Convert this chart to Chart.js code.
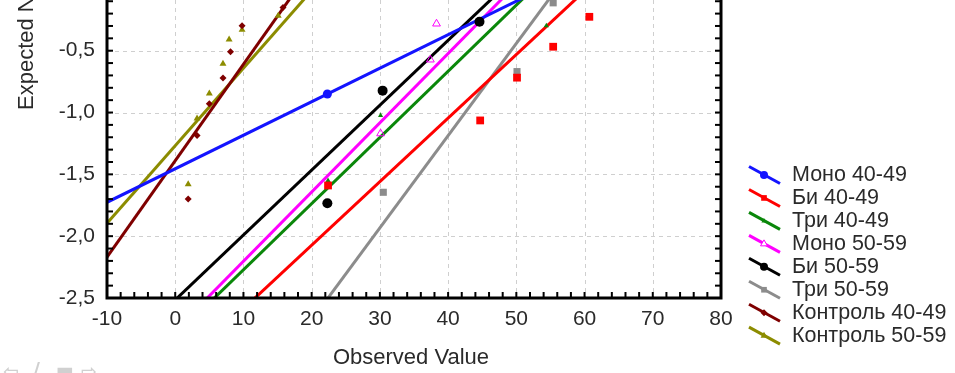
<!DOCTYPE html>
<html><head><meta charset="utf-8">
<script src="https://cdn.jsdelivr.net/npm/chart.js@4/dist/chart.umd.min.js"></script>
<style>html,body{margin:0;padding:0;background:#fff;overflow:hidden}#wrap{width:955px;height:373px;position:relative}</style>
</head><body><div id="wrap"><canvas id="c" width="955" height="373"></canvas></div>
<script>
// ---- data ----
const seriesNames = ['Моно 40-49','Би 40-49','Три 40-49','Моно 50-59','Би 50-59','Три 50-59','Контроль 40-49','Контроль 50-59'];
const xTickValues = [-10,0,10,20,30,40,50,60,70,80];
const yTickValues = [-2.5,-2.0,-1.5,-1.0,-0.5];
const xTitle = 'Observed Value';
const yTitle = 'Expected Normal Value';

// observed points
const mono40X = [22.3];                 const mono40Y = [-0.85];
const bi40X   = [22.4,44.7,50.1,55.4,60.7]; const bi40Y = [-1.59,-1.064,-0.718,-0.468,-0.226];
const tri40X  = [22.4,30.1,54.4];       const tri40Y  = [-1.55,-1.024,-0.298];
const mono50X = [30.1,37.4,38.3];       const mono50Y = [-1.17,-0.573,-0.282];
const bi50X   = [22.3,30.4,44.6];       const bi50Y   = [-1.734,-0.823,-0.266];
const tri50X  = [30.5,50.1,55.4];       const tri50Y  = [-1.645,-0.669,-0.113];
const k40X    = [1.9,3.2,5.0,7.0,8.1,9.8,15.8]; const k40Y = [-1.70,-1.185,-0.93,-0.72,-0.508,-0.298,-0.15];
const k50X    = [1.9,3.2,5.0,7.0,7.9,9.8,15.1]; const k50Y = [-1.58,-1.048,-0.847,-0.605,-0.41,-0.33,-0.218];

// fitted normal lines (two end points each)
const mono40FitX = [-10,55];  const mono40FitY = [-1.726,0.036];
const bi40FitX   = [10,60];   const bi40FitY   = [-2.587,-0.017];
const tri40FitX  = [4,52];    const tri40FitY  = [-2.593,-0.024];
const mono50FitX = [3,50];    const mono50FitY = [-2.595,0.037];
const bi50FitX   = [-1,48];   const bi50FitY   = [-2.568,0.004];
const tri50FitX  = [21,57];   const tri50FitY  = [-2.604,0.081];
const k40FitX    = [-10,18];  const k40FitY    = [-2.17,0.014];
const k50FitX    = [-10,20];  const k50FitY    = [-1.895,-0.014];

// ---- styles ----
const FONT = "'Liberation Sans', Arial, sans-serif";
const styles = [
  {color:'#1414ff', point:'circle',   r:4.5, fill:true},
  {color:'#ff0000', point:'rect',     r:5.5, fill:true},
  {color:'#0a870a', point:'triangle', r:3,   fill:true},
  {color:'#ff00ff', point:'triangle', r:4.5, fill:false},
  {color:'#000000', point:'circle',   r:5,   fill:true},
  {color:'#8c8c8c', point:'rect',     r:5,   fill:true},
  {color:'#7f0000', point:'rectRot',  r:3.5, fill:true},
  {color:'#8c8c00', point:'triangle', r:4,   fill:true}
];
const pts = [[mono40X,mono40Y],[bi40X,bi40Y],[tri40X,tri40Y],[mono50X,mono50Y],[bi50X,bi50Y],[tri50X,tri50Y],[k40X,k40Y],[k50X,k50Y]];
const fits = [[mono40FitX,mono40FitY],[bi40FitX,bi40FitY],[tri40FitX,tri40FitY],[mono50FitX,mono50FitY],[bi50FitX,bi50FitY],[tri50FitX,tri50FitY],[k40FitX,k40FitY],[k50FitX,k50FitY]];
const zip = (xs,ys) => xs.map((x,i)=>({x:x,y:ys[i]}));

const datasets = [];
pts.forEach((p,i)=>{
  const s = styles[i];
  datasets.push({type:'scatter', label:seriesNames[i], data:zip(p[0],p[1]), order:0,
    pointStyle:s.point, pointRadius:s.r, pointHoverRadius:s.r,
    backgroundColor: s.fill ? s.color : 'rgba(0,0,0,0)', borderColor:s.color, pointBorderWidth: s.fill?0:1, showLine:false});
});
fits.forEach((f,i)=>{
  const s = styles[i];
  datasets.push({type:'line', label:seriesNames[i]+' fit', data:zip(f[0],f[1]), order:1,
    borderColor:s.color, borderWidth:3, pointRadius:0, fill:false, tension:0});
});

const fmt = v => (v<0?'-':'') + Math.abs(v).toFixed(1).replace('.',',');

const decor = {
  id:'decor',
  afterLayout(chart){
    // the plot is cropped at the top: let the plot area reach the top edge
    const a = chart.chartArea, y = chart.scales.y;
    if (a.top !== 0) {
      a.top = 0; a.height = a.bottom;
      y.top = 0; y.height = a.bottom;
      y.configure();
    }
  },
  beforeDatasetsDraw(chart){
    const {ctx, chartArea:a, scales:{x,y}} = chart;
    ctx.save();
    ctx.strokeStyle = '#cfcfcf'; ctx.lineWidth = 1; ctx.setLineDash([4,4]);
    xTickValues.forEach(v=>{ const px = Math.round(x.getPixelForValue(v))+0.5; ctx.beginPath(); ctx.moveTo(px,a.top); ctx.lineTo(px,a.bottom); ctx.stroke(); });
    yTickValues.forEach(v=>{ const py = Math.round(y.getPixelForValue(v))+0.5; ctx.beginPath(); ctx.moveTo(a.left,py); ctx.lineTo(a.right,py); ctx.stroke(); });
    ctx.restore();
  },
  afterDatasetsDraw(chart){
    const {ctx, chartArea:a, scales:{x,y}} = chart;
    ctx.save();
    ctx.setLineDash([]);
    ctx.strokeStyle = '#000'; ctx.lineWidth = 3;
    ctx.beginPath(); ctx.moveTo(a.left, a.top); ctx.lineTo(a.left, a.bottom); ctx.lineTo(a.right, a.bottom); ctx.lineTo(a.right, a.top); ctx.stroke();
    // inward minor ticks
    ctx.lineWidth = 2;
    for (let v=-10; v<=80; v+=2){ const px = x.getPixelForValue(v); ctx.beginPath(); ctx.moveTo(px,a.bottom); ctx.lineTo(px,a.bottom-6); ctx.stroke(); }
    for (let k=-25; k<=0; k++){ const v=k/10; const py=y.getPixelForValue(v); if(py<a.top) continue;
      ctx.beginPath(); ctx.moveTo(a.left,py); ctx.lineTo(a.left+6,py); ctx.stroke();
      ctx.beginPath(); ctx.moveTo(a.right,py); ctx.lineTo(a.right-6,py); ctx.stroke(); }
    ctx.restore();
  },
  afterDraw(chart){
    const {ctx} = chart;
    ctx.save();
    ctx.fillStyle = '#2a2a2a';
    ctx.font = '22px ' + FONT;
    ctx.textAlign='center'; ctx.textBaseline='alphabetic';
    ctx.fillText(xTitle, 411, 364);
    ctx.save(); ctx.translate(33,110); ctx.rotate(-Math.PI/2); ctx.textAlign='left'; ctx.fillText(yTitle,0,0); ctx.restore();
    ctx.font = '21.5px ' + FONT;
    seriesNames.forEach((n,i)=>{
      const s = styles[i]; const cy = 174.5 + i*22.95;
      ctx.strokeStyle = s.color; ctx.lineWidth = 3;
      ctx.beginPath(); ctx.moveTo(749, cy-8); ctx.lineTo(780, cy+9); ctx.stroke();
      ctx.fillStyle = s.fill ? s.color : '#ffffff'; ctx.strokeStyle = s.color; ctx.lineWidth = 1;
      Chart.helpers.drawPoint(ctx, {pointStyle:s.point, radius:Math.min(s.r,4), borderWidth: s.fill?0:1, rotation:0}, 764, cy+0.5);
      ctx.fillStyle = '#2a2a2a';
      ctx.textAlign='left'; ctx.textBaseline='middle';
      ctx.fillText(n, 792, cy+1);
    });
    // faint navigation icons (bottom-left)
    ctx.fillStyle = '#d0d0d0'; ctx.font = "bold 19px 'DejaVu Sans'"; ctx.textBaseline='alphabetic'; ctx.textAlign='left';
    ctx.fillText('⇦', 3, 378); ctx.fillText('/', 33, 376); ctx.fillText('▬', 56, 376); ctx.fillText('⇨', 81, 378);
    ctx.restore();
  }
};

new Chart(document.getElementById('c'), {
  data:{datasets},
  options:{
    responsive:false, animation:false, devicePixelRatio:1,
    layout:{padding:{left:0,top:0,right:234,bottom:0}},
    plugins:{legend:{display:false}, tooltip:{enabled:false}},
    scales:{
      x:{type:'linear', min:-10, max:80,
        afterBuildTicks:s=>{ s.ticks = xTickValues.map(v=>({value:v})); },
        afterFit:s=>{ s.height = 75; s.paddingLeft = 0; s.paddingRight = 0; s.paddingTop = 0; s.paddingBottom = 0; },
        grid:{display:false, drawTicks:false}, border:{display:false},
        ticks:{font:{size:21, family:FONT}, color:'#2a2a2a', padding:9, maxRotation:0, autoSkip:false, callback:v=>String(v)}},
      y:{type:'linear', min:-2.5, max:-0.09,
        afterBuildTicks:s=>{ s.ticks = yTickValues.map(v=>({value:v})); },
        afterFit:s=>{ s.width = 107; s.paddingTop = 0; s.paddingBottom = 0; s.paddingLeft = 0; s.paddingRight = 0; },
        grid:{display:false, drawTicks:false}, border:{display:false},
        ticks:{font:{size:21, family:FONT}, color:'#2a2a2a', padding:12, autoSkip:false, callback:v=>fmt(v)}}
    }
  },
  plugins:[decor]
});
</script></body></html>
